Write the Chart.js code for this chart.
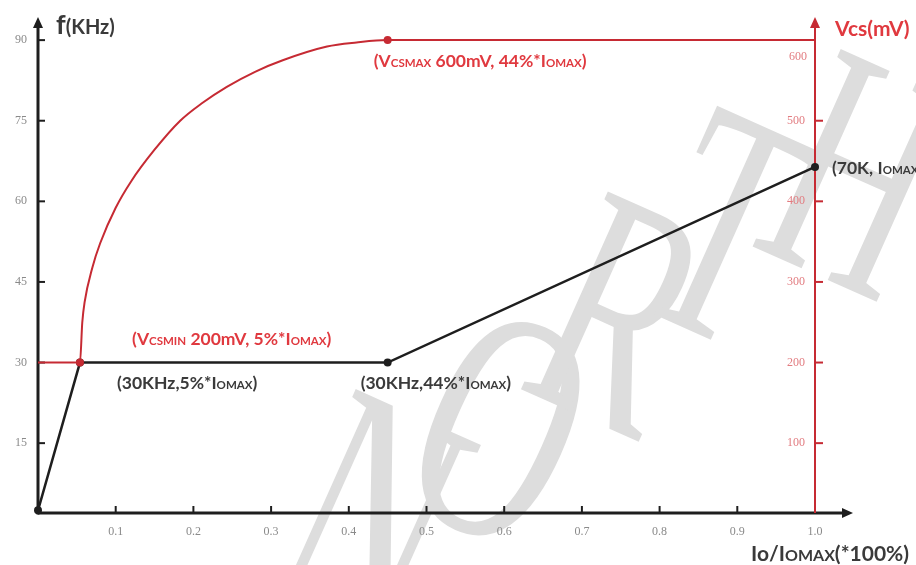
<!DOCTYPE html>
<html>
<head>
<meta charset="utf-8">
<script src="https://cdn.jsdelivr.net/npm/chart.js@4"></script>
<style>
  html, body { margin: 0; padding: 0; background: #fff; }
  #wrap { width: 916px; height: 565px; position: relative; }
</style>
</head>
<body>
<div id="wrap"><canvas id="chart" width="916" height="565"></canvas></div>
<script>
// tick labels
const xTicks = [0.1, 0.2, 0.3, 0.4, 0.5, 0.6, 0.7, 0.8, 0.9, 1.0];
const fTicks = [15, 30, 45, 60, 75, 90];
const vcsTicks = [100, 200, 300, 400, 500, 600];

// f (KHz) vs Io/Iomax  (black)
const fX = [0, 0.054, 0.45, 1.0];
const fValues = [2.5, 30, 30, 66.4];

// Vcs (mV) vs Io/Iomax (red)
const vcsX = [0, 0.054, 0.057, 0.060, 0.070, 0.080, 0.100, 0.120, 0.150, 0.183, 0.210, 0.243, 0.280, 0.315, 0.372, 0.410, 0.45, 1.0];
const vcsValues = [200, 200, 250, 275, 318, 348, 392, 425, 464, 500, 521, 542, 561, 575, 592, 597, 600, 600];
const vcsDots = [1, 16];

const RED = '#c62a33';
const DARK = '#1e1e1e';
const TXT = '#3a3a3a';
const LABEL_RED = '#e0393f';

// watermark letters: [char, centre x, centre y]
const markLetters = [['N', 365, 535], ['O', 492, 448], ['R', 612, 335], ['T', 718, 248], ['H', 850, 195]];

// draw text made of pieces with different sizes (small caps style subscripts)
function rich(ctx, x, y, parts, color) {
    ctx.save();
    ctx.fillStyle = color;
    ctx.textAlign = 'left';
    ctx.textBaseline = 'alphabetic';
    let cx = x;
    parts.forEach(p => {
        ctx.font = 'bold ' + p[1] + 'px Lato, "Open Sans", sans-serif';
        ctx.fillText(p[0], cx, y);
        cx += ctx.measureText(p[0]).width;
    });
    ctx.restore();
}

function arrow(ctx, x, y, dir, color) {
    ctx.save();
    ctx.fillStyle = color;
    ctx.beginPath();
    if (dir === 'up') {
        ctx.moveTo(x, y); ctx.lineTo(x - 5, y + 11); ctx.lineTo(x + 5, y + 11);
    } else {
        ctx.moveTo(x, y); ctx.lineTo(x - 11, y - 5); ctx.lineTo(x - 11, y + 5);
    }
    ctx.closePath();
    ctx.fill();
    ctx.restore();
}

const decorPlugin = {
    id: 'decor',
    beforeDraw(chart) {
        const ctx = chart.ctx;
        ctx.save();
        ctx.fillStyle = '#fff';
        ctx.fillRect(0, 0, chart.width, chart.height);
        // watermark
        ctx.fillStyle = '#dddddd';
        ctx.font = '330px "Liberation Serif", serif';
        ctx.textAlign = 'center';
        ctx.textBaseline = 'middle';
        markLetters.forEach(m => {
            ctx.save();
            ctx.translate(m[1], m[2]);
            ctx.rotate(0.42);
            ctx.scale(0.62, 1);
            ctx.fillText(m[0], 0, 0);
            ctx.restore();
        });
        ctx.restore();
    },
    beforeDatasetsDraw(chart) {
        const ctx = chart.ctx;
        const x = chart.scales.x, y = chart.scales.y, y2 = chart.scales.y2;
        const x0 = x.getPixelForValue(0), x1 = x.getPixelForValue(1.0);
        const yb = chart.chartArea.bottom;
        ctx.save();
        ctx.lineCap = 'butt';
        // left axis
        ctx.strokeStyle = DARK; ctx.lineWidth = 3;
        ctx.beginPath(); ctx.moveTo(x0, yb + 1.5); ctx.lineTo(x0, 26); ctx.stroke();
        arrow(ctx, x0, 17, 'up', DARK);
        // bottom axis
        ctx.beginPath(); ctx.moveTo(x0, yb); ctx.lineTo(843, yb); ctx.stroke();
        arrow(ctx, 853, yb, 'right', DARK);
        // left ticks
        ctx.lineWidth = 2;
        fTicks.forEach(v => {
            const p = y.getPixelForValue(v);
            ctx.beginPath(); ctx.moveTo(x0, p); ctx.lineTo(x0 + 7, p); ctx.stroke();
        });
        // bottom ticks
        xTicks.forEach(v => {
            const p = x.getPixelForValue(v);
            ctx.beginPath(); ctx.moveTo(p, yb); ctx.lineTo(p, yb - 7); ctx.stroke();
        });
        // right axis
        ctx.strokeStyle = RED; ctx.lineWidth = 2;
        ctx.beginPath(); ctx.moveTo(x1, yb); ctx.lineTo(x1, 26); ctx.stroke();
        arrow(ctx, x1, 17, 'up', RED);
        vcsTicks.forEach(v => {
            if (v === 600) return;
            const p = y2.getPixelForValue(v);
            ctx.beginPath(); ctx.moveTo(x1, p); ctx.lineTo(x1 + 8, p); ctx.stroke();
        });
        ctx.restore();
    },
    afterDatasetsDraw(chart) {
        const ctx = chart.ctx;
        const x = chart.scales.x, y = chart.scales.y, y2 = chart.scales.y2;
        const pMin = { x: x.getPixelForValue(0.054), y: y.getPixelForValue(30) };
        const pMid = { x: x.getPixelForValue(0.45), y: y.getPixelForValue(30) };
        const pMax = { x: x.getPixelForValue(0.45), y: y2.getPixelForValue(600) };
        const pEnd = { x: x.getPixelForValue(1.0), y: y.getPixelForValue(66.4) };

        rich(ctx, pMin.x + 37, pMin.y + 26, [['(30KHz,5%*I', 17.5], ['OMAX', 11.5], [')', 17.5]], TXT);
        rich(ctx, pMid.x - 27, pMid.y + 26, [['(30KHz,44%*I', 17.5], ['OMAX', 11.5], [')', 17.5]], TXT);
        rich(ctx, pMin.x + 52, pMin.y - 18, [['(V', 17.5], ['CSMIN', 11.5], [' 200mV, 5%*I', 17.5], ['OMAX', 11.5], [')', 17.5]], LABEL_RED);
        rich(ctx, pMax.x - 14, pMax.y + 27, [['(V', 17.5], ['CSMAX', 11.5], [' 600mV, 44%*I', 17.5], ['OMAX', 11.5], [')', 17.5]], LABEL_RED);
        rich(ctx, pEnd.x + 17, pEnd.y + 7, [['(70K, I', 17.5], ['OMAX', 11.5]], TXT);

        // axis titles
        rich(ctx, 56, 34, [['f', 27], ['(KHz)', 20]], TXT);
        rich(ctx, 835, 36, [['Vcs(mV)', 21]], LABEL_RED);
        rich(ctx, 751, 561, [['Io/I', 21], ['OMAX', 16], ['(*100%)', 21]], TXT);

        // 600 label sits below the Vcsmax line
        ctx.save();
        ctx.font = '12px "Liberation Serif", serif';
        ctx.fillStyle = '#e27c80';
        ctx.textAlign = 'right';
        ctx.textBaseline = 'middle';
        ctx.fillText('600', pEnd.x - 8, y2.getPixelForValue(600) + 17);
        ctx.restore();
    }
};

new Chart(document.getElementById('chart'), {
    type: 'line',
    data: {
        datasets: [
            {
                label: 'Vcs',
                yAxisID: 'y2',
                data: vcsX.map((v, i) => ({ x: v, y: vcsValues[i] })),
                borderColor: RED,
                backgroundColor: RED,
                borderWidth: 2,
                cubicInterpolationMode: 'monotone',
                pointRadius: vcsX.map((v, i) => vcsDots.includes(i) ? 4 : 0),
                pointBorderWidth: 0,
                clip: false
            },
            {
                label: 'f',
                yAxisID: 'y',
                data: fX.map((v, i) => ({ x: v, y: fValues[i] })),
                borderColor: DARK,
                backgroundColor: DARK,
                borderWidth: 2.5,
                tension: 0,
                pointRadius: 4,
                pointBorderWidth: 0,
                clip: false
            }
        ]
    },
    options: {
        responsive: false,
        animation: false,
        events: [],
        layout: { padding: { top: 24, left: 0, right: 0, bottom: 0 } },
        plugins: { legend: { display: false }, tooltip: { enabled: false } },
        scales: {
            x: {
                type: 'linear',
                min: 0, max: 1.0,
                grid: { display: false, drawTicks: false },
                border: { display: false },
                afterBuildTicks: s => { s.ticks = xTicks.map(v => ({ value: v })); },
                afterFit: s => { s.height = 52; },
                ticks: {
                    padding: 12,
                    color: '#8a8a8a',
                    font: { family: '"Liberation Serif", serif', size: 12 },
                    callback: v => v.toFixed(1)
                }
            },
            y: {
                position: 'left',
                min: 2, max: 93,
                grid: { display: false, drawTicks: false },
                border: { display: false },
                afterBuildTicks: s => { s.ticks = fTicks.map(v => ({ value: v })); },
                afterFit: s => { s.width = 38; },
                ticks: {
                    padding: 11,
                    color: '#8a8a8a',
                    font: { family: '"Liberation Serif", serif', size: 12 }
                }
            },
            y2: {
                position: 'right',
                min: 2 * 20 / 3, max: 93 * 20 / 3,
                grid: { display: false, drawTicks: false },
                border: { display: false },
                afterBuildTicks: s => { s.ticks = vcsTicks.map(v => ({ value: v })); },
                afterFit: s => { s.width = 101; },
                ticks: {
                    mirror: true,
                    padding: -10,
                    color: '#e27c80',
                    font: { family: '"Liberation Serif", serif', size: 12 },
                    callback: v => v === 600 ? '' : v
                }
            }
        }
    },
    plugins: [decorPlugin]
});
</script>
</body>
</html>
